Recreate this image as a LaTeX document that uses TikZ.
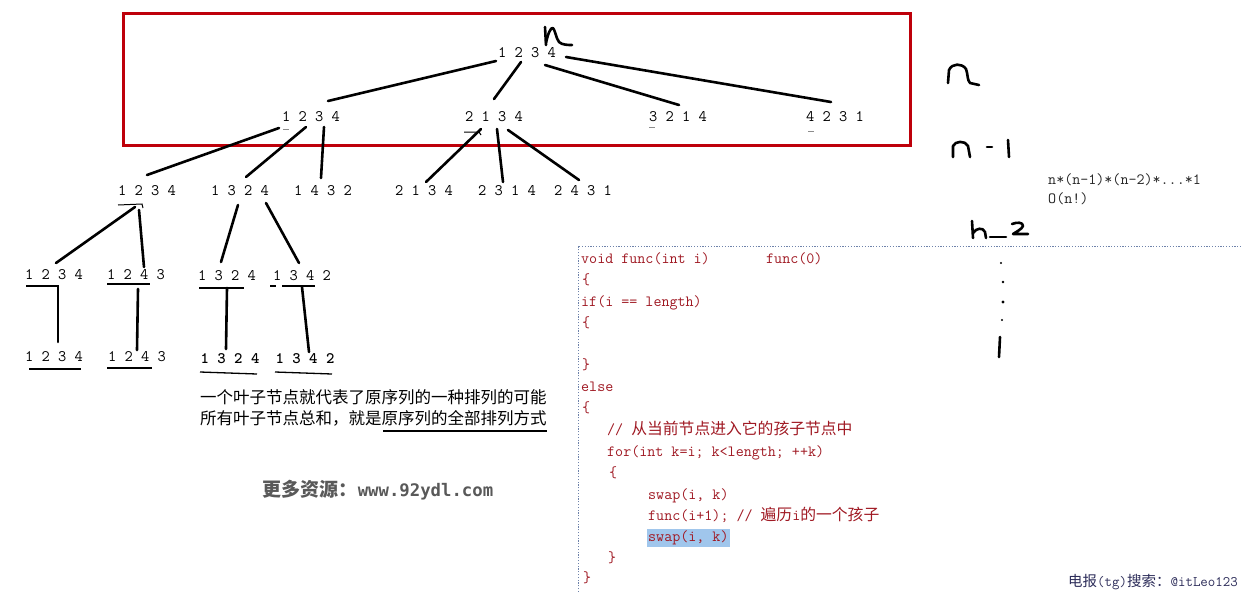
\documentclass[tikz,border=0pt]{standalone}
\usepackage{fontspec}
\usetikzlibrary{calc}
\newfontfamily\cjk{Noto Sans CJK SC}
\newfontfamily\urlmono{DejaVu Sans Mono}
\definecolor{frame}{RGB}{190,0,10}
\definecolor{codered}{RGB}{160,25,35}
\definecolor{hl}{RGB}{160,198,236}
\definecolor{dotc}{RGB}{110,130,170}
\definecolor{wm}{RGB}{45,45,90}
\newcommand\numfont{\ttfamily\fontsize{16}{19}\selectfont}
\newcommand\codefont{\ttfamily\fontsize{15.6}{19}\selectfont}
\newcommand\zh[1]{{\cjk\fontsize{15.8}{19}\selectfont #1}}
\tikzset{
  num/.style={font=\numfont, inner sep=0pt, text=black},
  edge/.style={line width=2.6pt, line cap=round, black},
  ul/.style={line width=1.3pt, black},
  faint/.style={line width=1pt, black!45},
  hand/.style={line width=2.6pt, line cap=round, line join=round, black},
  code/.style={font=\codefont, text=codered, anchor=base west, inner sep=0pt},
  dotline/.style={dotc, line width=0.9pt, dash pattern=on 1.2pt off 1.6pt},
}
\begin{document}
\begin{tikzpicture}[x=1pt,y=-1pt]
\useasboundingbox[fill=white] (0,0) rectangle (1241,592);
% red frame
\draw[frame, line width=3pt] (123,13) rectangle (910,145);
% tree nodes
\node[num] (r) at (527,53) {1 2 3 4};
\node[num] (a) at (311,117) {1 2 3 4};
\node[num] (b) at (494,117) {2 1 3 4};
\node[num] (c) at (678,117) {3 2 1 4};
\node[num] (d) at (835,117) {4 2 3 1};
\node[num] (aa) at (147,191) {1 2 3 4};
\node[num] (ab) at (240,191) {1 3 2 4};
\node[num] (ac) at (323,191) {1 4 3 2};
\node[num] (ba) at (424,191) {2 1 3 4};
\node[num] (bb) at (507,191) {2 3 1 4};
\node[num] (bc) at (583,191) {2 4 3 1};
\node[num] (aaa) at (54,275) {1 2 3 4};
\node[num] (aab) at (136,275) {1 2 4 3};
\node[num] (aba) at (227,276) {1 3 2 4};
\node[num] (abb) at (302,276) {1 3 4 2};
\node[num] (la) at (54,357) {1 2 3 4};
\node[num] (lb) at (137,357) {1 2 4 3};
\node[num, font=\ttfamily\bfseries\fontsize{16}{19}\selectfont] (lc) at (230,359) {1 3 2 4};
\node[num, font=\ttfamily\bfseries\fontsize{16}{19}\selectfont] (ld) at (305,359) {1 3 4 2};
% edges
\draw[edge] ($(r)+(-31,8)$) -- ($(a)+(17,-16)$);
\draw[edge] ($(r)+(-6,9)$) -- ($(b)+(0,-18)$);
\draw[edge] ($(r)+(18,12)$) -- ($(c)+(1,-12)$);
\draw[edge] ($(r)+(39,4)$) -- ($(d)+(-4,-15)$);
\draw[edge] ($(a)+(-32,11)$) -- ($(aa)+(0,-16)$);
\draw[edge] ($(a)+(-5,10)$) -- ($(ab)+(6,-14)$);
\draw[edge] ($(a)+(13,10)$) -- ($(ac)+(-2,-13)$);
\draw[edge] ($(b)+(-13,12)$) -- ($(ba)+(2,-9)$);
\draw[edge] ($(b)+(3,12)$) -- ($(bb)+(-4,-9)$);
\draw[edge] ($(b)+(14,13)$) -- ($(bc)+(-4,-11)$);
\draw[edge] ($(aa)+(-12,16)$) -- ($(aaa)+(2,-12)$);
\draw[edge] ($(aa)+(-8,19)$) -- ($(aab)+(8,-8)$);
\draw[edge] ($(ab)+(-2,14)$) -- ($(aba)+(-6,-14)$);
\draw[edge] ($(ab)+(26,12)$) -- ($(abb)+(-3,-13)$);
\draw[edge] ($(aaa)+(4,12)$) -- ($(la)+(4,-15)$);
\draw[edge] ($(aab)+(2,14)$) -- ($(lb)+(0,-7)$);
\draw[edge] ($(aba)+(0,12)$) -- ($(lc)+(-4,-10)$);
\draw[edge] ($(abb)+(0,11)$) -- ($(ld)+(4,-7)$);
% underlines
\draw[ul] ($(aaa)+(-28,11)$) -- ($(aaa)+(5,11)$);
\draw[ul] ($(aab)+(-29,9)$) -- ($(aab)+(14,9)$);
\draw[ul] ($(aba)+(-28,12)$) -- ($(aba)+(17,12)$);
\draw[ul] ($(abb)+(-32,10)$) -- ($(abb)+(-26,10)$);
\draw[ul] ($(abb)+(-20,10)$) -- ($(abb)+(13,10)$);
\draw[ul] ($(la)+(-25,12)$) -- ($(la)+(27,12)$);
\draw[ul] ($(lb)+(-30,11)$) -- ($(lb)+(15,11)$);
\draw[ul] ($(lc)+(-30,13)$) -- ($(lc)+(27,15)$);
\draw[ul] ($(ld)+(-30,13)$) -- ($(ld)+(27,15)$);
% faint marks
\draw[faint] ($(a)+(-28,12)$) -- ($(a)+(-22,12)$);
\draw[ul, line width=1pt] ($(b)+(-30,15)$) -- ($(b)+(-15,15)$) -- ($(b)+(-13,18)$);
\draw[faint] ($(c)+(-29,10)$) -- ($(c)+(-23,10)$);
\draw[faint] ($(d)+(-27,14)$) -- ($(d)+(-21,14)$);
\draw[ul, line width=1pt] ($(aa)+(-29,14)$) -- ($(aa)+(-5,13)$) -- ($(aa)+(-4,17)$);
% handwritten n near root
\draw[hand] (545,27) -- (546,45);
\draw[hand] (546,43) .. controls (548,33) and (551,27) .. (553,28) .. controls (555,30) and (556,38) .. (559,42) .. controls (562,45) and (568,45) .. (572,45);
% right side handwritten labels
\draw[hand] (948,83) -- (949,70) .. controls (952,63) and (962,63) .. (966,69) .. controls (968,74) and (967,80) .. (970,83) -- (979,85);
\draw[hand] (953,157) -- (953,146) .. controls (955,141) and (965,140) .. (968,146) -- (970,157);
\draw[hand] (987,147) -- (992,147);
\draw[hand] (1008,140) -- (1009,157);
\draw[hand] (972,221) -- (973,238);
\draw[hand] (973,233) .. controls (976,228) and (983,227) .. (985,232) -- (986,238);
\draw[hand] (990,237) -- (1006,237);
\draw[hand] (1012,224) .. controls (1017,222) and (1023,222) .. (1023,226) .. controls (1022,229) and (1016,232) .. (1013,234) -- (1028,234);
% dotted vertical
\fill (1001,263) circle (1.2pt);
\fill (1003,282) circle (1.3pt);
\fill (1003,302) circle (1.6pt);
\fill (1002,320) circle (1.1pt);
\draw[hand] (1000,337) -- (999,357);
% formula
\node[code, text=black!85] (f1) at (1048,184.5) {n*(n-1)*(n-2)*...*1};
\node[code, text=black!85] (f2) at (1048,203.5) {O(n!)};
% Chinese explanation
\node[anchor=west, inner sep=0pt, font=\cjk\fontsize{16.5}{20}\selectfont] (t1) at (200,397) {一个叶子节点就代表了原序列的一种排列的可能};
\node[anchor=west, inner sep=0pt, font=\cjk\fontsize{16.5}{20}\selectfont] (t2) at (200,418) {所有叶子节点总和，就是原序列的全部排列方式};
\draw[line width=2pt] ($(t2.west)+(183,13)$) -- ($(t2.west)+(347,13)$);
% watermark
\node[inner sep=0pt, text=black!65] (w1) at (378,490) {{\cjk\bfseries\fontsize{19}{20}\selectfont 更多资源：}{\urlmono\bfseries\fontsize{17.3}{20}\selectfont www.92ydl.com}};
% code box
\draw[dotline] (578,592) -- (578,246) -- (1241,246);
\node[code] (c1) at (581,263.5) {void func(int i)};
\node[code] (c1b) at (766,263.5) {func(0)};
\node[code] (c2) at (582,284.5) {\{};
\node[code] (c3) at (581,306.5) {if(i == length)};
\node[code] (c4) at (582,327.5) {\{};
\node[code] (c5) at (582,369.5) {\}};
\node[code] (c6) at (581,391.5) {else};
\node[code] (c7) at (582,412.5) {\{};
\node[code] (c8) at (607,434.5) {// \zh{从当前节点进入它的孩子节点中}};
\node[code] (c9) at (607,456.5) {for(int k=i; k<length; ++k)};
\node[code] (c10) at (609,477.5) {\{};
\node[code] (c11) at (648,499.5) {swap(i, k)};
\node[code] (c12) at (648,520.5) {func(i+1); // \zh{遍历}i\zh{的一个孩子}};
\node[code, fill=hl, inner xsep=1.5pt, inner ysep=2pt] (c13) at (646.5,541.5) {swap(i, k)};
\node[code] (c14) at (608,562.5) {\}};
\node[code] (c15) at (583,582.5) {\}};
% telegram watermark
\node[anchor=east, inner sep=0pt, text=wm] (w2) at (1238,582) {{\cjk\fontsize{14.5}{16}\selectfont 电报}{\ttfamily\fontsize{14.5}{16}\selectfont(tg)}{\cjk\fontsize{14.5}{16}\selectfont 搜索：}{\ttfamily\fontsize{14.5}{16}\selectfont @itLeo123}};
\end{tikzpicture}
\end{document}
